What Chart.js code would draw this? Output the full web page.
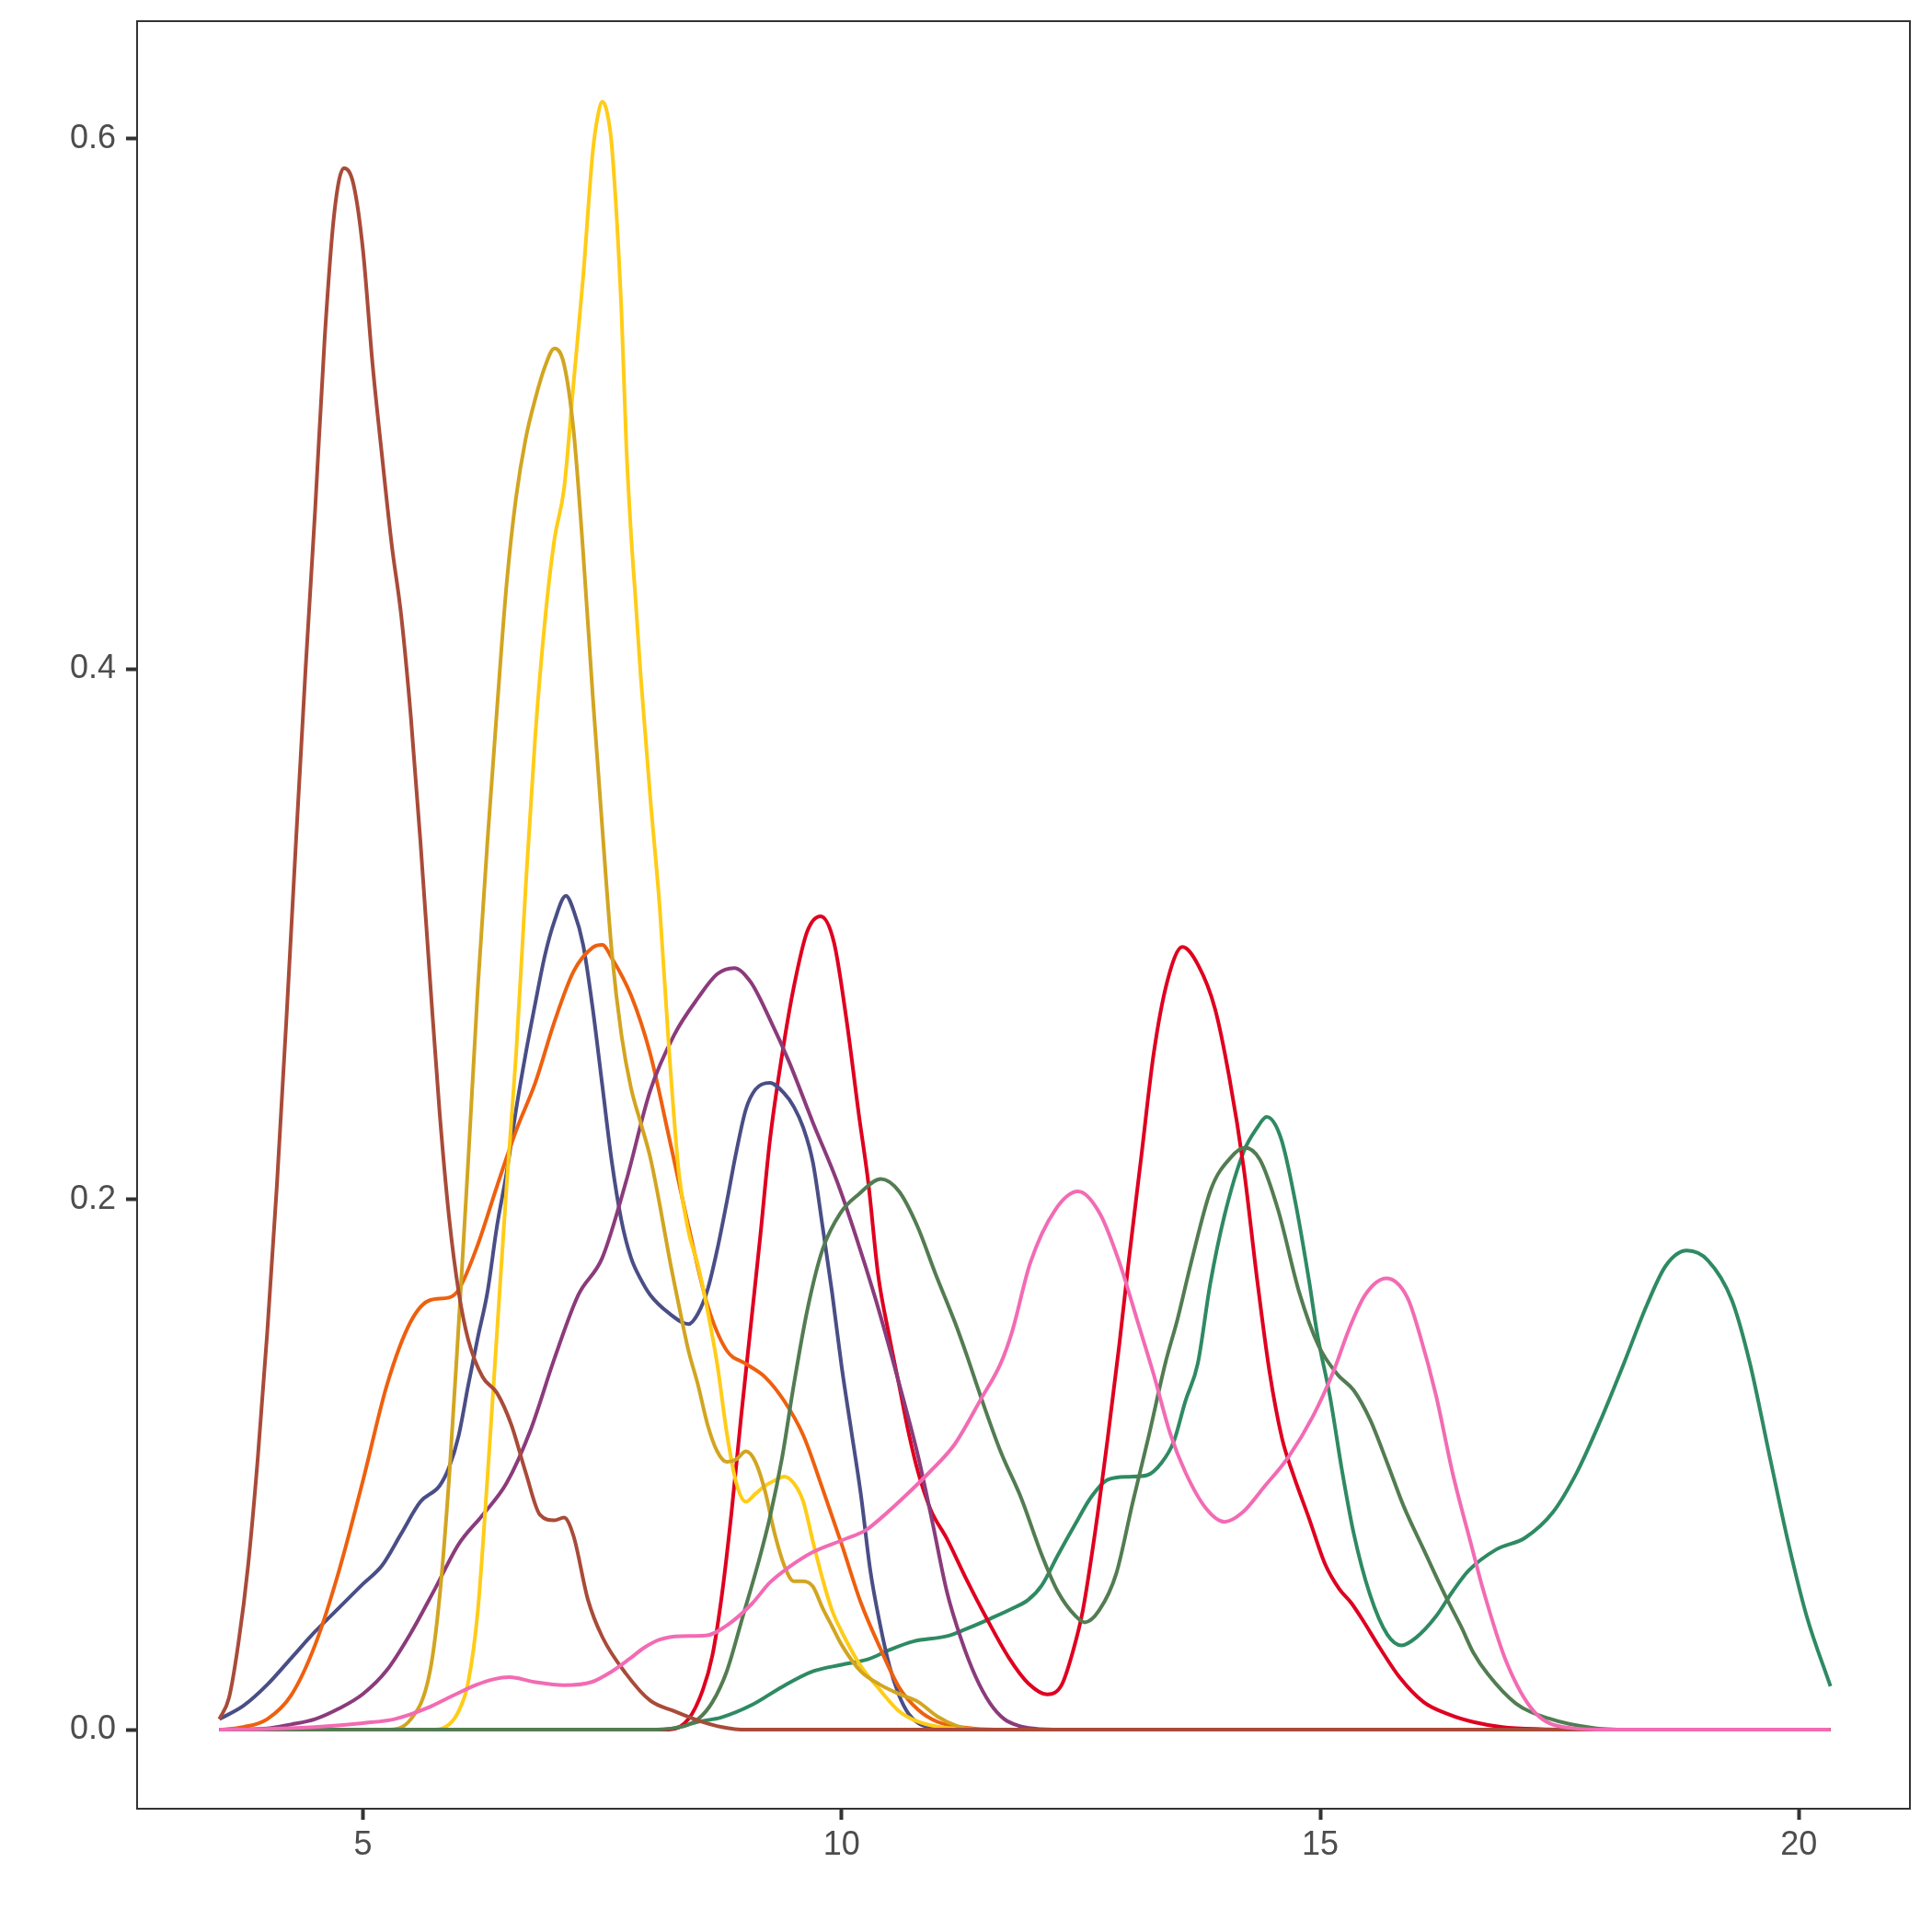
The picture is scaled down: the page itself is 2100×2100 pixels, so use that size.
<!DOCTYPE html>
<html lang="en">

<head>
  <meta charset="UTF-8" />
  <title>Density curves</title>
  <script src="https://cdn.jsdelivr.net/npm/chart.js"></script>
  <style>
    html, body { margin: 0; padding: 0; background: #fff; }
    canvas { display: block; }
  </style>
</head>

<body>
  <canvas id="chartDensity" width="2100" height="2100"></canvas>

  <script>
    // tick labels
    const xTicks = [5, 10, 15, 20];
    const yTicks = [0, 0.2, 0.4, 0.6];

    // values, one x/y pair of arrays per curve
    const tealX = [3.5, 8.0, 8.26, 8.5, 8.74, 9.06, 9.38, 9.7, 10.0, 10.28, 10.5, 10.75, 11.1, 11.3, 11.56, 11.8, 11.95, 12.09, 12.26, 12.44, 12.61, 12.78, 13.0, 13.19, 13.34, 13.47, 13.59, 13.72, 13.85, 14.0, 14.2, 14.34, 14.44, 14.59, 14.74, 14.88, 14.97, 15.1, 15.23, 15.35, 15.52, 15.7, 15.85, 16.0, 16.21, 16.38, 16.55, 16.84, 17.14, 17.43, 17.68, 17.92, 18.17, 18.41, 18.61, 18.83, 19.05, 19.3, 19.49, 19.69, 19.88, 20.08, 20.33];
    const tealY = [0, 0, 0.0006, 0.003, 0.0046, 0.0093, 0.0162, 0.022, 0.0245, 0.0266, 0.0301, 0.0333, 0.0353, 0.038, 0.042, 0.046, 0.049, 0.0544, 0.0659, 0.0775, 0.0879, 0.0943, 0.0954, 0.096, 0.1006, 0.1087, 0.1238, 0.138, 0.168, 0.194, 0.218, 0.227, 0.2311, 0.223, 0.199, 0.17, 0.149, 0.126, 0.0972, 0.074, 0.0509, 0.0359, 0.0318, 0.0347, 0.0428, 0.052, 0.06, 0.068, 0.0724, 0.082, 0.097, 0.116, 0.138, 0.16, 0.175, 0.1807, 0.177, 0.162, 0.138, 0.104, 0.072, 0.043, 0.0164];

    const redX = [3.5, 8.2, 8.4, 8.55, 8.65, 8.75, 8.85, 8.95, 9.05, 9.15, 9.25, 9.38, 9.5, 9.64, 9.78, 9.92, 10.05, 10.18, 10.28, 10.38, 10.5, 10.6, 10.7, 10.8, 10.93, 11.1, 11.3, 11.5, 11.75, 11.95, 12.15, 12.3, 12.42, 12.52, 12.65, 12.78, 12.9, 13.0, 13.13, 13.26, 13.4, 13.56, 13.73, 13.9, 14.05, 14.2, 14.34, 14.47, 14.6, 14.72, 14.88, 15.05, 15.2, 15.32, 15.45, 15.62, 15.83, 16.08, 16.34, 16.6, 16.9, 17.3, 17.8, 20.33];
    const redY = [0, 0, 0.004, 0.015, 0.028, 0.051, 0.082, 0.118, 0.152, 0.186, 0.222, 0.255, 0.28, 0.301, 0.3068, 0.297, 0.268, 0.232, 0.206, 0.172, 0.148, 0.13, 0.112, 0.097, 0.083, 0.072, 0.057, 0.043, 0.027, 0.0175, 0.0133, 0.017, 0.03, 0.045, 0.075, 0.11, 0.145, 0.177, 0.216, 0.255, 0.282, 0.2952, 0.288, 0.272, 0.246, 0.212, 0.17, 0.135, 0.11, 0.096, 0.08, 0.0625, 0.053, 0.048, 0.041, 0.031, 0.0197, 0.0104, 0.0058, 0.0029, 0.001, 0.0002, 0, 0];

    const blueX = [3.5, 3.75, 4.0, 4.25, 4.5, 4.75, 5.0, 5.2, 5.4, 5.6, 5.8, 5.9, 6.0, 6.1, 6.2, 6.3, 6.4, 6.5, 6.6, 6.7, 6.8, 6.9, 7.0, 7.12, 7.2, 7.3, 7.4, 7.5, 7.6, 7.7, 7.8, 7.9, 8.0, 8.2, 8.4, 8.5, 8.6, 8.7, 8.8, 8.9, 9.0, 9.1, 9.25, 9.4, 9.5, 9.6, 9.7, 9.8, 9.9, 10.0, 10.1, 10.2, 10.3, 10.4, 10.5, 10.6, 10.7, 10.8, 10.9, 11.1, 20.33];
    const blueY = [0.004, 0.009, 0.017, 0.027, 0.037, 0.046, 0.055, 0.062, 0.074, 0.086, 0.092, 0.099, 0.111, 0.13, 0.148, 0.165, 0.19, 0.21, 0.234, 0.255, 0.274, 0.292, 0.305, 0.3145, 0.309, 0.296, 0.272, 0.243, 0.214, 0.192, 0.178, 0.17, 0.164, 0.157, 0.153, 0.157, 0.166, 0.181, 0.199, 0.218, 0.234, 0.2415, 0.244, 0.24, 0.235, 0.227, 0.214, 0.19, 0.165, 0.137, 0.113, 0.089, 0.06, 0.04, 0.024, 0.013, 0.006, 0.0025, 0.001, 0, 0];

    const orangeX = [3.5, 3.75, 4.0, 4.25, 4.5, 4.75, 5.0, 5.25, 5.5, 5.7, 5.9, 6.0, 6.2, 6.4, 6.6, 6.8, 7.0, 7.2, 7.4, 7.5, 7.6, 7.8, 8.0, 8.2, 8.4, 8.6, 8.8, 9.0, 9.2, 9.4, 9.6, 9.8, 10.0, 10.2, 10.4, 10.6, 10.8, 11.0, 11.3, 11.6, 20.33];
    const orangeY = [0, 0.001, 0.004, 0.013, 0.032, 0.06, 0.094, 0.13, 0.154, 0.162, 0.163, 0.166, 0.183, 0.205, 0.226, 0.244, 0.267, 0.286, 0.295, 0.296, 0.291, 0.277, 0.255, 0.223, 0.19, 0.16, 0.143, 0.138, 0.133, 0.124, 0.111, 0.091, 0.07, 0.048, 0.031, 0.016, 0.0075, 0.003, 0.0007, 0, 0];

    const purpleX = [3.5, 4.0, 4.25, 4.5, 4.75, 5.0, 5.25, 5.5, 5.75, 6.0, 6.25, 6.5, 6.75, 7.0, 7.25, 7.5, 7.75, 8.0, 8.25, 8.5, 8.7, 8.88, 9.05, 9.25, 9.45, 9.7, 9.95, 10.15, 10.35, 10.5, 10.65, 10.8, 10.95, 11.1, 11.25, 11.4, 11.55, 11.7, 11.85, 12.0, 12.3, 20.33];
    const purpleY = [0, 0.0005, 0.002, 0.004, 0.008, 0.0135, 0.0225, 0.0365, 0.053, 0.07, 0.081, 0.093, 0.113, 0.14, 0.164, 0.178, 0.207, 0.241, 0.262, 0.276, 0.285, 0.2873, 0.282, 0.268, 0.252, 0.229, 0.207, 0.186, 0.163, 0.144, 0.124, 0.103, 0.078, 0.052, 0.034, 0.02, 0.01, 0.004, 0.0015, 0.0005, 0, 0];

    const yellowX = [3.5, 5.75, 5.9, 6.0, 6.1, 6.2, 6.3, 6.4, 6.5, 6.6, 6.7, 6.8, 6.9, 7.0, 7.1, 7.2, 7.3, 7.4, 7.45, 7.5, 7.55, 7.6, 7.7, 7.75, 7.8, 7.85, 7.9, 8.0, 8.1, 8.2, 8.3, 8.4, 8.5, 8.6, 8.7, 8.8, 8.9, 9.0, 9.1, 9.2, 9.3, 9.4, 9.5, 9.6, 9.7, 9.8, 9.9, 10.0, 10.2, 10.4, 10.6, 10.8, 11.0, 11.2, 11.5, 20.33];
    const yellowY = [0, 0, 0.002, 0.007, 0.018, 0.045, 0.095, 0.15, 0.205, 0.255, 0.318, 0.375, 0.418, 0.449, 0.468, 0.508, 0.548, 0.595, 0.608, 0.614, 0.61, 0.597, 0.535, 0.485, 0.451, 0.425, 0.398, 0.352, 0.31, 0.255, 0.21, 0.188, 0.175, 0.158, 0.138, 0.112, 0.093, 0.086, 0.089, 0.092, 0.094, 0.0955, 0.093, 0.086, 0.071, 0.057, 0.045, 0.037, 0.024, 0.015, 0.007, 0.003, 0.0012, 0.0004, 0, 0];

    const goldX = [3.5, 5.25, 5.5, 5.7, 5.8, 5.9, 6.0, 6.1, 6.2, 6.3, 6.4, 6.5, 6.6, 6.7, 6.8, 6.9, 7.0, 7.1, 7.2, 7.3, 7.4, 7.5, 7.6, 7.7, 7.8, 7.9, 8.0, 8.1, 8.2, 8.3, 8.4, 8.5, 8.6, 8.7, 8.8, 8.9, 9.0, 9.1, 9.2, 9.3, 9.4, 9.5, 9.6, 9.7, 9.8, 9.9, 10.0, 10.2, 10.4, 10.6, 10.8, 11.0, 11.2, 11.4, 20.33];
    const goldY = [0, 0, 0.004, 0.022, 0.05, 0.095, 0.153, 0.215, 0.28, 0.335, 0.385, 0.432, 0.465, 0.487, 0.502, 0.514, 0.521, 0.515, 0.49, 0.444, 0.39, 0.34, 0.293, 0.262, 0.242, 0.229, 0.216, 0.198, 0.178, 0.16, 0.143, 0.13, 0.115, 0.105, 0.101, 0.102, 0.105, 0.101, 0.09, 0.074, 0.062, 0.056, 0.056, 0.054, 0.046, 0.039, 0.032, 0.022, 0.017, 0.0135, 0.0105, 0.005, 0.0015, 0, 0];

    const greenX = [3.5, 8.0, 8.25, 8.5, 8.65, 8.8, 8.97, 9.13, 9.25, 9.38, 9.5, 9.64, 9.8, 9.99, 10.18, 10.41, 10.6, 10.79, 10.98, 11.18, 11.3, 11.45, 11.66, 11.88, 12.09, 12.26, 12.44, 12.54, 12.69, 12.87, 13.04, 13.21, 13.38, 13.51, 13.65, 13.86, 14.07, 14.21, 14.37, 14.56, 14.78, 14.98, 15.18, 15.35, 15.52, 15.7, 15.87, 16.08, 16.3, 16.47, 16.6, 16.75, 17.04, 17.38, 17.87, 18.3, 20.33];
    const greenY = [0, 0, 0.0006, 0.004, 0.0104, 0.022, 0.043, 0.063, 0.08, 0.103, 0.13, 0.158, 0.181, 0.195, 0.202, 0.2077, 0.203, 0.19, 0.172, 0.154, 0.142, 0.126, 0.105, 0.087, 0.066, 0.052, 0.043, 0.0405, 0.045, 0.059, 0.0856, 0.111, 0.138, 0.155, 0.176, 0.204, 0.216, 0.2195, 0.215, 0.196, 0.165, 0.145, 0.134, 0.128, 0.117, 0.1006, 0.0844, 0.068, 0.051, 0.039, 0.029, 0.021, 0.01, 0.0043, 0.0006, 0, 0];

    const brownX = [3.5, 3.6, 3.7, 3.8, 3.9, 4.0, 4.1, 4.2, 4.3, 4.4, 4.5, 4.6, 4.7, 4.8, 4.9, 5.0, 5.1, 5.2, 5.3, 5.4, 5.5, 5.6, 5.7, 5.8, 5.9, 6.0, 6.1, 6.25, 6.4, 6.55, 6.7, 6.85, 7.0, 7.1, 7.2, 7.35, 7.5, 7.75, 8.0, 8.25, 8.5, 8.75, 9.0, 20.33];
    const brownY = [0.004, 0.012, 0.033, 0.062, 0.102, 0.15, 0.205, 0.268, 0.335, 0.4, 0.46, 0.525, 0.572, 0.589, 0.583, 0.558, 0.515, 0.48, 0.447, 0.42, 0.382, 0.335, 0.283, 0.233, 0.193, 0.165, 0.147, 0.133, 0.127, 0.115, 0.097, 0.081, 0.079, 0.08, 0.073, 0.049, 0.035, 0.021, 0.011, 0.007, 0.0035, 0.001, 0, 0];

    const pinkX = [3.5, 4.0, 4.5, 5.0, 5.33, 5.68, 5.93, 6.19, 6.36, 6.53, 6.79, 7.1, 7.39, 7.6, 7.78, 7.94, 8.1, 8.32, 8.58, 8.8, 9.06, 9.25, 9.45, 9.7, 10.02, 10.25, 10.41, 10.66, 10.92, 11.18, 11.46, 11.66, 11.78, 11.97, 12.23, 12.47, 12.7, 12.92, 13.09, 13.26, 13.43, 13.59, 13.81, 14.0, 14.19, 14.41, 14.67, 14.92, 15.14, 15.3, 15.47, 15.69, 15.91, 16.04, 16.21, 16.38, 16.59, 16.7, 16.94, 17.24, 17.63, 18.0, 20.33];
    const pinkY = [0, 0.0003, 0.001, 0.0025, 0.004, 0.0083, 0.0127, 0.017, 0.019, 0.0198, 0.018, 0.0168, 0.018, 0.022, 0.0266, 0.031, 0.034, 0.0353, 0.0355, 0.0393, 0.0474, 0.0555, 0.0613, 0.067, 0.0717, 0.0752, 0.0798, 0.088, 0.0972, 0.1076, 0.125, 0.138, 0.15, 0.176, 0.196, 0.203, 0.1945, 0.1743, 0.1542, 0.134, 0.112, 0.0972, 0.0833, 0.0784, 0.082, 0.0914, 0.103, 0.118, 0.1353, 0.151, 0.164, 0.1702, 0.163, 0.149, 0.126, 0.0972, 0.068, 0.053, 0.026, 0.0066, 0.0006, 0, 0];

    function pairs(xs, ys) {
      return xs.map((x, i) => ({ x: x, y: ys[i] }));
    }

    function curve(xs, ys, color) {
      return {
        data: pairs(xs, ys),
        borderColor: color,
        backgroundColor: color,
        borderWidth: 4,
        pointRadius: 0,
        fill: false,
        cubicInterpolationMode: 'monotone'
      };
    }

    // panel border drawn on top of the lines, like ggplot
    const panelBorder = {
      id: 'panelBorder',
      afterDatasetsDraw(chart) {
        const a = chart.chartArea;
        const ctx = chart.ctx;
        ctx.save();
        ctx.strokeStyle = '#333333';
        ctx.lineWidth = 2;
        ctx.strokeRect(a.left, a.top, a.right - a.left, a.bottom - a.top);
        ctx.restore();
      }
    };

    // Chart.js paints the first dataset last, so the list runs from top to bottom
    new Chart(document.getElementById('chartDensity'), {
      type: 'line',
      data: {
        datasets: [
          curve(pinkX, pinkY, '#F26BB3'),
          curve(brownX, brownY, '#A94B39'),
          curve(greenX, greenY, '#527C51'),
          curve(goldX, goldY, '#D2A521'),
          curve(yellowX, yellowY, '#FFCC17'),
          curve(purpleX, purpleY, '#8B3B7B'),
          curve(orangeX, orangeY, '#EE600F'),
          curve(blueX, blueY, '#4A4E86'),
          curve(redX, redY, '#DF0020'),
          curve(tealX, tealY, '#2E8A63')
        ]
      },
      options: {
        responsive: false,
        animation: false,
        devicePixelRatio: 1,
        layout: { padding: { top: 23, right: 24, left: 0, bottom: 0 } },
        plugins: {
          legend: { display: false },
          tooltip: { enabled: false }
        },
        scales: {
          x: {
            type: 'linear',
            min: 2.64,
            max: 21.16,
            afterBuildTicks: (axis) => { axis.ticks = xTicks.map(v => ({ value: v })); },
            afterFit: (axis) => {
              axis.height = 134;
              axis.paddingLeft = 0;
              axis.paddingRight = 0;
            },
            grid: { drawOnChartArea: false, drawTicks: true, tickLength: 12, tickWidth: 4, tickColor: '#333333' },
            border: { display: false },
            ticks: {
              padding: 6,
              color: '#4D4D4D',
              font: { family: 'Liberation Sans, Arial, sans-serif', size: 36 },
              maxRotation: 0,
              callback: (v) => String(v)
            }
          },
          y: {
            type: 'linear',
            min: -0.0298,
            max: 0.6444,
            afterBuildTicks: (axis) => { axis.ticks = yTicks.map(v => ({ value: v })); },
            afterFit: (axis) => {
              axis.width = 149;
              axis.paddingTop = 0;
              axis.paddingBottom = 0;
            },
            grid: { drawOnChartArea: false, drawTicks: true, tickLength: 12, tickWidth: 4, tickColor: '#333333' },
            border: { display: false },
            ticks: {
              padding: 11,
              color: '#4D4D4D',
              font: { family: 'Liberation Sans, Arial, sans-serif', size: 36 },
              callback: (v) => Number(v).toFixed(1)
            }
          }
        }
      },
      plugins: [panelBorder]
    });
  </script>
</body>

</html>
